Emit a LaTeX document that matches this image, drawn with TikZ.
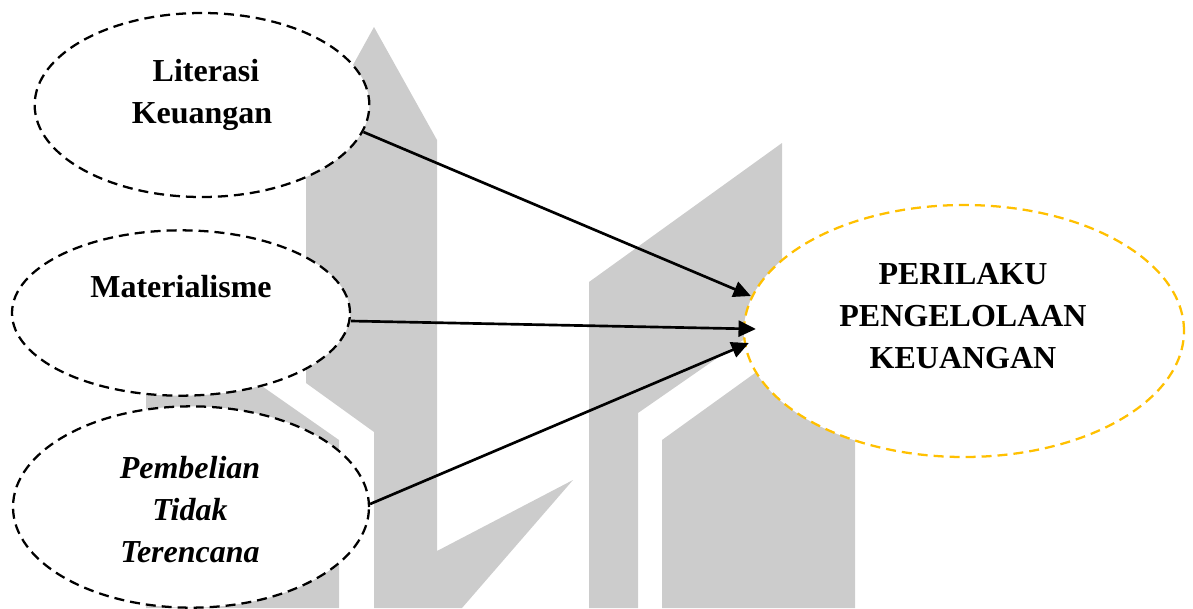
\documentclass[tikz,border=0pt]{standalone}
\usepackage{fontspec}
\setmainfont{Liberation Serif}
\usetikzlibrary{shapes.geometric}
\usetikzlibrary{arrows.meta}
\definecolor{logogray}{HTML}{CCCCCC}
\definecolor{amberline}{HTML}{FFC000}
\tikzset{
  varell/.style={ellipse, draw=black, fill=white, line width=1.7pt, dash pattern=on 7.5pt off 4.5pt, inner sep=0pt},
  vartext/.style={align=center, font=\fontsize{24}{31.5}\selectfont\bfseries},
  link/.style={line width=2pt, -{Triangle[length=13pt,width=12pt]}},
  logo/.style={fill=logogray}
}
\begin{document}
\begin{tikzpicture}[x=0.75pt,y=-0.75pt,line cap=butt]
  \useasboundingbox (0,0) rectangle (1193,608);

  % --- Sfondo: logo grigio ---
  \fill[logo] (374,27) -- (437,140) -- (437,551) -- (573,480) -- (462,608) -- (374,608)
    -- (374,432) -- (306,383) -- (306,150) -- cycle;
  \fill[logo] (146,305) -- (339,440) -- (339,608) -- (146,608) -- cycle;
  \fill[logo] (589,282) -- (782,143) -- (782,313) -- (638,413) -- (638,608) -- (589,608) -- cycle;
  \fill[logo] (662,440) -- (855,301) -- (855,608) -- (662,608) -- cycle;

  % --- Variabili indipendenti ---
  \node[varell, minimum width=251pt, minimum height=138pt] (literasi) at (202,105) {};
  \node[vartext] (literasilabel) at (202,95) {\hspace*{6pt}Literasi\\Keuangan};
  \node[varell, minimum width=253.5pt, minimum height=124pt] (materialisme) at (181,313) {};
  \node[vartext] (materialismelabel) at (181,287) {Materialisme};
  \node[varell, minimum width=267pt, minimum height=151pt] (pembelian) at (191,507) {};
  \node[vartext, font=\fontsize{24}{31.5}\selectfont\bfseries\itshape] (pembelianlabel) at (190,510) {Pembelian\\Tidak\\Terencana};

  % --- Variabile dipendente ---
  \node[varell, draw=amberline, minimum width=330pt, minimum height=189pt] (perilaku) at (964,331) {};
  \node[vartext] (perilakulabel) at (963,316) {PERILAKU\\PENGELOLAAN\\KEUANGAN};

  % --- Frecce ---
  \draw[link] ([shift={(-7,27)}]literasi.east) -- ([shift={(8,-35)}]perilaku.west);
  \draw[link] ([shift={(0,8)}]materialisme.east) -- ([shift={(13,-2)}]perilaku.west);
  \draw[link] ([shift={(0,-3)}]pembelian.east) -- ([shift={(6,12)}]perilaku.west);
\end{tikzpicture}
\end{document}
